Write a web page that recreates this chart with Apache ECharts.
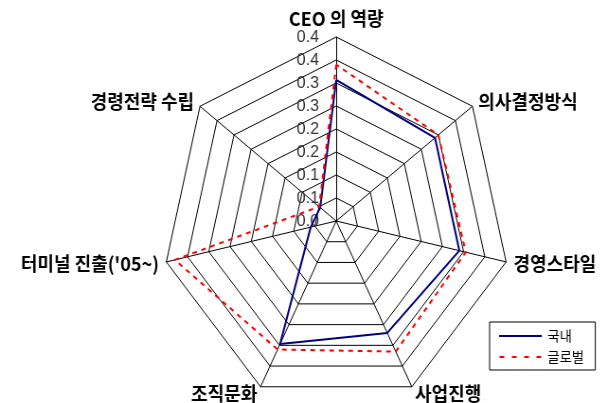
<!DOCTYPE html>
<html>
<head>
<meta charset="utf-8">
<script src="https://cdn.jsdelivr.net/npm/echarts@6/dist/echarts.min.js"></script>
<style>
  html, body { margin: 0; padding: 0; background: #fff; overflow: hidden; }
  #wrap { width: 602px; height: 403px; overflow: hidden; position: relative; }
  /* the radar is drawn slightly wider and compressed horizontally */
  #chart { width: 636px; height: 403px; transform: scaleX(0.947); transform-origin: 0 0; }
</style>
</head>
<body>
<div id="wrap"><div id="chart"></div></div>
<script>
// Indicators, listed clockwise starting from the top axis
const categories = ['CEO 의 역량', '의사결정방식', '경영스타일', '사업진행', '조직문화', "터미널 진출('05~)", '경령전략 수립'];
// Series values (same clockwise order)
const domestic = [0.307, 0.29, 0.29, 0.27, 0.297, 0.06, 0.047];
const globalVals = [0.34, 0.30, 0.305, 0.315, 0.31, 0.38, 0.05];
const seriesNames = ['국내', '글로벌'];
// Tick labels for the rings 0, 0.05, ..., 0.4 (shown with one decimal)
const tickLabels = ['0.0', '0.1', '0.1', '0.2', '0.2', '0.3', '0.3', '0.4', '0.4'];
const axisMax = 0.4;
const axisStep = 0.05;

// ECharts lays indicators out counter-clockwise; reorder so they run clockwise
function clockwise(arr) {
  return [arr[0]].concat(arr.slice(1).reverse());
}

const indicator = clockwise(categories).map(function (name, i) {
  const ind = { name: name, min: 0, max: axisMax };
  if (i === 0) {
    ind.axisLabel = {
      show: true,
      fontFamily: 'Liberation Sans, Arial, sans-serif',
      fontSize: 17,
      color: '#333',
      margin: 18,
      showMinLabel: true,
      showMaxLabel: true,
      formatter: function (v) { return tickLabels[Math.round(v / axisStep)]; }
    };
  }
  return ind;
});

const chart = echarts.init(document.getElementById('chart'), null, { renderer: 'canvas' });
chart.setOption({
  backgroundColor: '#fff',
  animation: false,
  legend: {
    orient: 'vertical',
    left: 517,
    top: 322,
    padding: [7, 12, 6, 10],
    itemGap: 7,
    itemWidth: 47,
    itemHeight: 2,
    borderColor: '#000',
    borderWidth: 1,
    textStyle: { fontFamily: 'Noto Sans CJK KR', fontSize: 14, color: '#000' },
    data: [
      { name: seriesNames[0], icon: 'path://M0,0h45v2h-45z', itemStyle: { color: '#000080' } },
      { name: seriesNames[1], icon: 'path://M0,0h5v2h-5zM13,0h5v2h-5zM26,0h5v2h-5zM39,0h5v2h-5z', itemStyle: { color: '#ff0000' } }
    ]
  },
  radar: {
    center: [355, 221],
    radius: 184,
    startAngle: 90,
    shape: 'polygon',
    splitNumber: 8,
    indicator: indicator,
    nameGap: 8,
    axisName: {
      color: '#000',
      fontFamily: 'Noto Sans CJK KR',
      fontWeight: 'bold',
      fontSize: 19
    },
    axisLabel: { show: false },
    axisTick: { show: false },
    axisLine: { lineStyle: { color: '#000', width: 1 } },
    splitLine: { lineStyle: { color: '#000', width: 1 } },
    splitArea: { show: false }
  },
  series: [{
    type: 'radar',
    symbol: 'none',
    data: [
      {
        name: seriesNames[0],
        value: clockwise(domestic),
        lineStyle: { color: '#000080', width: 2 },
        itemStyle: { color: '#000080' }
      },
      {
        name: seriesNames[1],
        value: clockwise(globalVals),
        lineStyle: { color: '#ff0000', width: 2, type: [5, 5] },
        itemStyle: { color: '#ff0000' }
      }
    ]
  }]
});
</script>
</body>
</html>
